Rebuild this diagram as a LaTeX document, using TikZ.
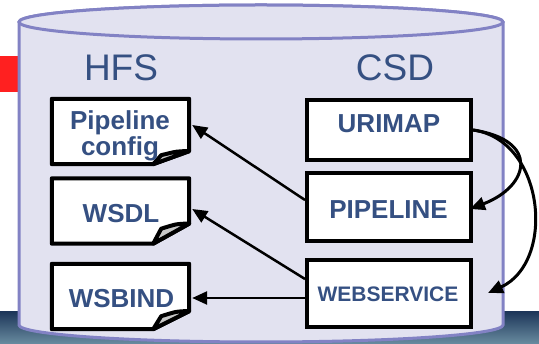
\documentclass[tikz,border=0pt]{standalone}
\usepackage{fontspec}
\setmainfont{Liberation Sans}
\usetikzlibrary{arrows.meta}
\definecolor{txtblue}{RGB}{53,80,130}
\definecolor{cylfill}{RGB}{226,226,240}
\definecolor{cylline}{RGB}{130,130,196}
\definecolor{redbar}{RGB}{255,32,32}
\definecolor{photodark}{RGB}{30,55,90}
\definecolor{photolight}{RGB}{105,140,160}
\definecolor{foldgray}{RGB}{200,200,200}
% #1 node, #2 fold height, #3 flap tip height
\newcommand\docfold[3]{%
  \draw[docline, fill=white] (#1.north west) -- (#1.north east) -- ([yshift=#2pt]#1.south east)
    -- ([xshift=-36pt]#1.south east) -- (#1.south west) -- cycle;
  \draw[docline, fill=foldgray] ([yshift=#2pt]#1.south east)
    .. controls ([xshift=-12pt,yshift=#2pt]#1.south east) .. ([xshift=-28pt,yshift=#3pt]#1.south east)
    -- ([xshift=-36pt]#1.south east) -- cycle;}
\begin{document}
\begin{tikzpicture}[x=1pt,y=-1pt,
  docbox/.style={inner sep=0pt, minimum width=137pt, minimum height=65pt},
  csdbox/.style={draw=black, line width=4pt, fill=white, inner sep=0pt, minimum width=164pt},
  boldlbl/.style={font=\bfseries\fontsize{26}{26}\selectfont, text=txtblue, inner sep=0pt},
  smalllbl/.style={font=\bfseries\fontsize{21}{21}\selectfont, text=txtblue, inner sep=0pt},
  titlelbl/.style={font=\fontsize{37}{37}\selectfont, text=txtblue, inner sep=0pt},
  arr/.style={line width=2.5pt, -{Triangle[length=15pt,width=13pt]}},
  docline/.style={line width=4pt, line join=round}
]
\useasboundingbox (0,0) rectangle (539,344);
% background
\shade[top color=photodark, bottom color=photolight] (0,312) rectangle (539,344);
\fill[redbar] (0,56) rectangle (25,92);
% cylinder
\path[fill=cylfill, draw=cylline, line width=3pt] (19,22) -- (19,325)
  arc[start angle=180, end angle=360, x radius=242pt, y radius=17pt] -- (503,22)
  arc[start angle=0, end angle=180, x radius=242pt, y radius=17pt] -- cycle;
\draw[fill=cylfill, draw=cylline, line width=3pt] (261,22) ellipse [x radius=242pt, y radius=17pt];
% titles
\node[titlelbl, anchor=base] (hfs) at (121,81) {HFS};
\node[titlelbl, anchor=base] (csd) at (395,81) {CSD};
% documents
\node[docbox] (cfg) at (120.5,131.5) {};
\node[docbox] (wsdl) at (120.5,211) {};
\node[docbox] (wsbind) at (120.5,296.5) {};
\docfold{cfg}{13}{9}
\docfold{wsdl}{20}{15}
\docfold{wsbind}{18}{13}
\node[boldlbl, align=center] (cfgt) at (120,136) {Pipeline\\config};
\node[boldlbl, anchor=base] (wsdlt) at (121,223) {WSDL};
\node[boldlbl, anchor=base] (wsbindt) at (121.5,308) {WSBIND};
% CSD resources
\node[csdbox, minimum height=60pt] (urimap) at (389,130) {};
\node[csdbox, minimum height=68pt] (pipeline) at (389,207) {};
\node[csdbox, minimum height=67pt] (websvc) at (389,293.5) {};
\node[boldlbl, anchor=base] (urimapt) at (389,133) {URIMAP};
\node[boldlbl, anchor=base] (pipelinet) at (388.5,219) {PIPELINE};
\node[smalllbl, anchor=base] (websvct) at (388,302) {WEBSERVICE};
% connectors
\draw[arr] ([yshift=7pt]pipeline.west) -- ([xshift=3pt,yshift=6.5pt]cfg.east);
\draw[arr] ([yshift=14.5pt]websvc.west) -- ([xshift=3pt,yshift=2pt]wsdl.east);
\draw[arr] ([yshift=-4.5pt]websvc.west) -- ([xshift=3pt,yshift=-1.5pt]wsbind.east);
\draw[arr, line width=3pt] (urimap.east) .. controls (540,140) and (530,186) .. ([xshift=-3pt,yshift=-2pt]pipeline.east);
\draw[arr, line width=3pt] (urimap.east) .. controls (545,140) and (556,262) .. ([xshift=15pt,yshift=0.5pt]websvc.east);
\end{tikzpicture}
\end{document}
